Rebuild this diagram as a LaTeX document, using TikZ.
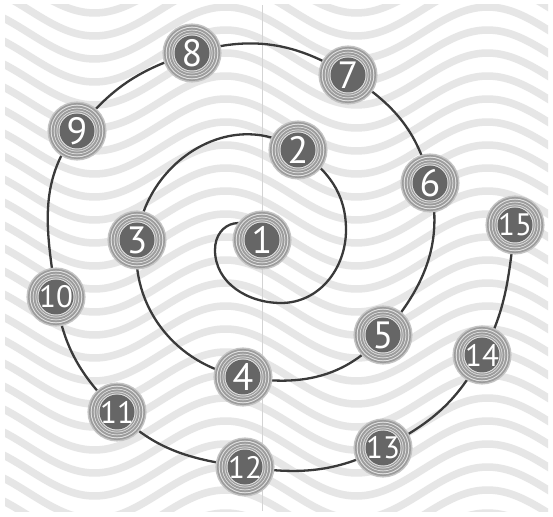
\documentclass[tikz,border=0pt]{standalone}
\usepackage{fontspec}
\setmainfont{PT Sans}
\usetikzlibrary{backgrounds}

\begin{document}
\begin{tikzpicture}[
  x=1pt, y=1pt,
  stop/.style={circle, minimum size=35pt, inner sep=0pt, fill=discgray, text=white,
               font=\fontsize{38}{38}\selectfont,
               preaction={draw=ringpale, line width=24pt},
               preaction={draw=ringgray, line width=21pt},
               preaction={draw=ringline, line width=17.5pt},
               preaction={draw=ringgray, line width=15.5pt},
               preaction={draw=ringline, line width=11.5pt},
               preaction={draw=ringgray, line width=10pt},
               preaction={draw=ringline, line width=6pt},
               preaction={draw=ringgray, line width=4.5pt},
               preaction={draw=ringline, line width=2pt}},
  stopwide/.style={stop, inner sep=-3pt, font=\fontsize{31}{31}\selectfont},
  spiral/.style={line width=2.3pt, draw=spiralgray, line cap=round},
  wave/.style={line width=7.5pt, draw=wavegray},
  seam/.style={line width=0.8pt, draw=seamgray},
]
\definecolor{discgray}{HTML}{666666}
\definecolor{ringgray}{HTML}{9C9C9C}
\definecolor{ringpale}{HTML}{C4C4C4}
\definecolor{ringline}{HTML}{E2E2E2}
\definecolor{spiralgray}{HTML}{3A3A3A}
\definecolor{wavegray}{HTML}{E6E6E6}
\definecolor{seamgray}{HTML}{D4D4D4}

\useasboundingbox (0,0) rectangle (553,516);

% ---- stops, inner turn ----
\node[stop] (n1) at (262,276) {1};
\node[stop] (n2) at (298,366) {2};
\node[stop] (n3) at (137,276) {3};
\node[stop] (n4) at (243,139) {4};
\node[stop] (n5) at (383,181) {5};
\node[stop] (n6) at (430,333) {6};
\node[stop] (n7) at (348,441) {7};
\node[stop] (n8) at (192,463) {8};
\node[stop] (n9) at (77,385) {9};

% ---- stops, outer turn ----
\node[stopwide] (n10) at (56,219) {10};
\node[stopwide] (n11) at (117,104) {11};
\node[stopwide] (n12) at (245,49) {12};
\node[stopwide] (n13) at (383,68) {13};
\node[stopwide] (n14) at (482,161) {14};
\node[stopwide] (n15) at (515,291) {15};

% ---- helper points of the inner loop ----
\coordinate (la) at (215,266);
\coordinate (lb) at (281,213);
\coordinate (lc) at (346,286);

\begin{scope}[on background layer]
  \fill[white] (0,0) rectangle (553,516);
  \begin{scope}
    \clip (5,5) rectangle (548,511);
    \foreach \k in {-2,...,24}
      \draw[wave] plot[domain=0:553, samples=80, smooth]
        (\x, {\k*23 + 26*sin((\x-160)/262*360)});
    \draw[seam] (262,5) -- (262,511);
  \end{scope}

  % ---- the spiral ----
  \draw[spiral] (n1.center) to[out=115,in=90,looseness=1.6] (la);
  \draw[spiral] (la) to[out=270,in=180] (lb);
  \draw[spiral] (lb) to[out=0,in=270] (lc);
  \draw[spiral] (lc) to[out=90,in=326] (n2.center);
  \draw[spiral] (n2.center) to[out=146,in=84,looseness=1.1] (n3.center);
  \draw[spiral] (n3.center) to[out=264,in=170] (n4.center);
  \draw[spiral] (n4.center) to[out=350,in=229] (n5.center);
  \draw[spiral] (n5.center) to[out=49,in=283] (n6.center);
  \draw[spiral] (n6.center) to[out=103,in=328] (n7.center);
  \draw[spiral] (n7.center) to[out=148,in=17] (n8.center);
  \draw[spiral] (n8.center) to[out=197,in=52] (n9.center);
  \draw[spiral] (n9.center) to[out=232,in=98] (n10.center);
  \draw[spiral] (n10.center) to[out=278,in=135] (n11.center);
  \draw[spiral] (n11.center) to[out=315,in=172] (n12.center);
  \draw[spiral] (n12.center) to[out=352,in=207] (n13.center);
  \draw[spiral] (n13.center) to[out=27,in=242] (n14.center);
  \draw[spiral] (n14.center) to[out=62,in=263] (n15.center);
\end{scope}
\end{tikzpicture}
\end{document}
